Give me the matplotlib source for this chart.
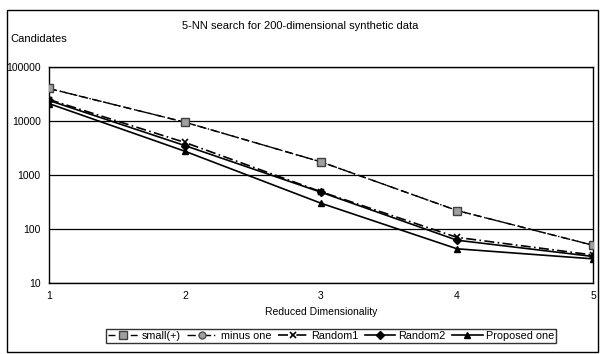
import matplotlib.pyplot as plt
import matplotlib.ticker as mticker
from matplotlib.patches import Rectangle

plt.rcParams['font.family'] = ['Liberation Sans', 'DejaVu Sans']

dims = [1, 2, 3, 4, 5]
small_plus = [40000, 9500, 1750, 220, 50]
minus_one = [40000, 9500, 1750, 220, 50]
random1 = [25000, 4000, 490, 70, 33]
random2 = [24000, 3500, 480, 62, 31]
proposed = [21000, 2750, 300, 43, 28]

title = '5-NN search for 200-dimensional synthetic data'
ylabel = 'Candidates'
xlabel = 'Reduced Dimensionality'

W, H = 601, 354
fig = plt.figure(figsize=(W / 100, H / 100), dpi=100)
ax = fig.add_axes([49 / W, 1 - 283 / H, (593 - 49) / W, (283 - 67) / H])

# small(+) sits exactly on minus one, its squares drawn on top
ax.plot(dims, small_plus, color='black', lw=1.0, ls=(0, (5, 3)),
        marker='s', ms=6, mfc='#a0a0a0', mec='#404040', label='small(+)', zorder=4)
ax.plot(dims, minus_one, color='black', lw=1.0, ls=(0, (6, 2, 1, 2)),
        marker='o', ms=5, mfc='#a0a0a0', mec='#505050', label='minus one', zorder=3)
ax.plot(dims, random1, color='black', lw=1.2, ls=(0, (6, 2, 1, 2)),
        marker='x', ms=5, mew=1.2, label='Random1')
ax.plot(dims, random2, color='black', lw=1.2, ls='-',
        marker='D', ms=4, label='Random2')
ax.plot(dims, proposed, color='black', lw=1.2, ls='-',
        marker='^', ms=5, label='Proposed one')

ax.set_yscale('log')
ax.set_ylim(10, 100000)
ax.set_xlim(1, 5)
ax.set_xticks(dims)
ax.yaxis.set_major_locator(mticker.LogLocator(base=10, numticks=10))
ax.yaxis.set_major_formatter(mticker.FuncFormatter(lambda v, p: f'{int(round(v))}'))
ax.yaxis.set_minor_locator(mticker.NullLocator())
ax.grid(axis='y', color='black', lw=0.9)
ax.tick_params(labelsize=7.5, length=0, pad=6)
for s in ax.spines.values():
    s.set_color('black')
    s.set_linewidth(1.0)

ax.set_xlabel(xlabel, fontsize=7.5, labelpad=4)
fig.text(300 / W, 1 - 26 / H, title, ha='center', va='center', fontsize=8)
fig.text(10 / W, 1 - 39 / H, ylabel, ha='left', va='center', fontsize=8)

fig.legend(loc='center', bbox_to_anchor=(331 / W, 1 - 336 / H), ncol=5,
           fontsize=7.8, frameon=True, fancybox=False, edgecolor='black',
           handlelength=2.8, handletextpad=0.3, columnspacing=0.6,
           borderpad=0.2)

fig.patches.append(Rectangle((7 / W, 2 / H), 591 / W, 342 / H,
                             transform=fig.transFigure, fill=False,
                             edgecolor='black', lw=1.0))

fig.savefig('out.png', dpi=100)
